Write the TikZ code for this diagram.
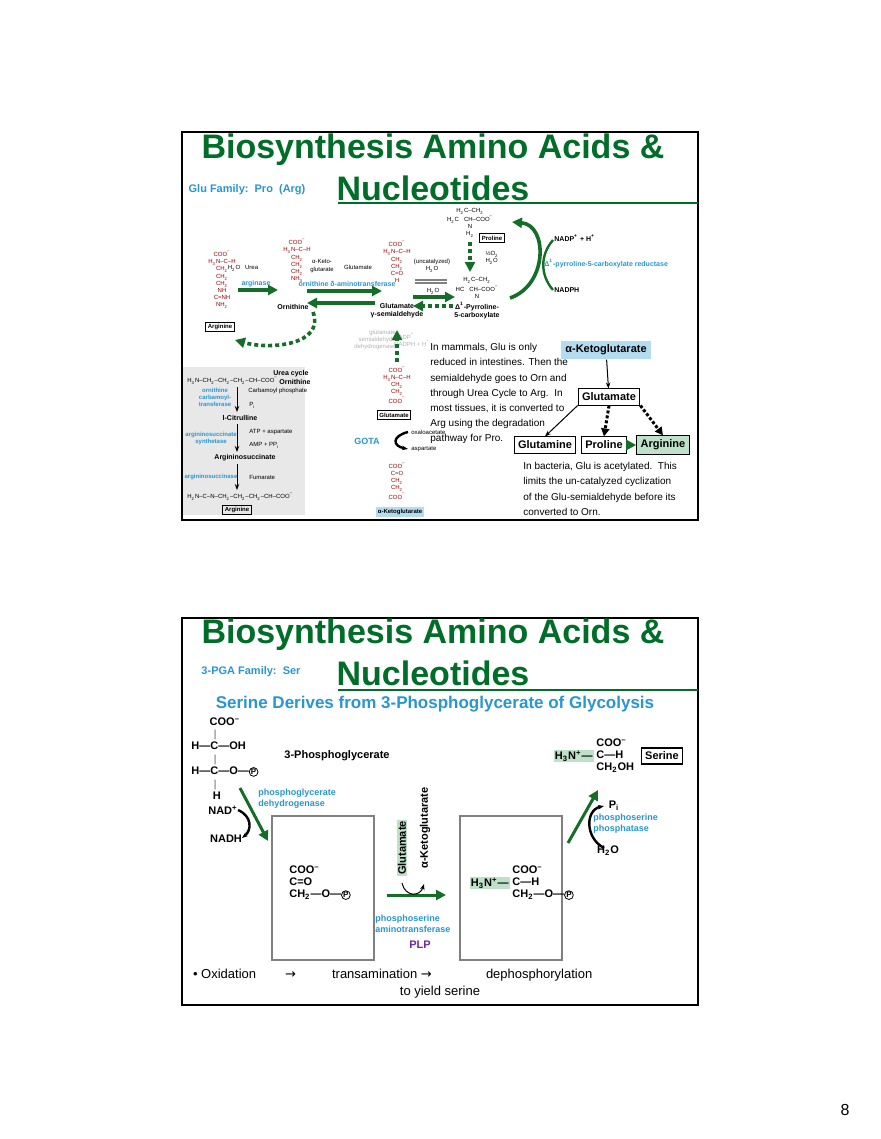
\documentclass[tikz,border=0pt]{standalone}
\usepackage{fontspec}
\setmainfont{Liberation Sans}
\newfontfamily\symfont{DejaVu Sans}
\usetikzlibrary{arrows.meta,positioning}
\definecolor{slidegreen}{RGB}{0,110,40}
\definecolor{arrowgreen}{RGB}{20,110,40}
\definecolor{enzblue}{RGB}{40,150,210}
\definecolor{lightbox}{RGB}{180,220,240}
\definecolor{lightgreen}{RGB}{190,225,200}
\definecolor{panelgray}{RGB}{232,232,232}
\definecolor{plpviolet}{RGB}{110,40,160}
\newcommand{\lo}[1]{\textsubscript{#1}}
\newcommand{\hi}[1]{\textsuperscript{#1}}
\newcommand{\circP}{\tikz[baseline=(p.base)]\node[draw, circle, line width=0.4pt, inner sep=0.2pt, font=\fontsize{4}{4}\selectfont\bfseries] (p) {P};}

\begin{document}
\begin{tikzpicture}[x=0.5pt, y=-0.5pt]
    % Define styles
    \tikzset{
      frame/.style={draw=black, line width=0.6pt},
      title/.style={font=\fontsize{17}{19}\selectfont\bfseries, text=slidegreen},
      family/.style={font=\fontsize{5.5}{6}\selectfont\bfseries, text=enzblue},
      chem/.style={font=\fontsize{3}{3.6}\selectfont, inner sep=0.5pt},
      chemb/.style={font=\fontsize{3.5}{4}\selectfont\bfseries, inner sep=0.5pt},
      enz/.style={font=\fontsize{3.5}{4}\selectfont\bfseries, text=enzblue, inner sep=0.5pt, align=center},
      tag/.style={draw=black, font=\fontsize{3}{3.5}\selectfont\bfseries, inner sep=1pt},
      note/.style={font=\fontsize{5}{7.6}\selectfont, align=left, anchor=north west, inner sep=0pt},
      bigbox/.style={draw=black, line width=0.5pt, font=\fontsize{5.5}{6.5}\selectfont\bfseries, inner sep=2pt, minimum height=8pt},
      sermol/.style={font=\fontsize{5.5}{6}\selectfont\bfseries, inner sep=0.5pt},
      serenz/.style={font=\fontsize{4.5}{5.5}\selectfont\bfseries, text=enzblue, align=left, inner sep=0pt, anchor=west},
      garrow/.style={-{Triangle[length=5pt,width=5pt]}, draw=arrowgreen, line width=1.8pt},
      gdash/.style={-{Triangle[length=5pt,width=5pt]}, draw=arrowgreen, line width=1.8pt, dash pattern=on 2pt off 1.5pt},
      karrow/.style={-{Stealth[length=3pt]}, draw=black, line width=0.5pt}
    }
    \useasboundingbox (0,0) rectangle (880,1139);
    \fill[white] (0,0) rectangle (880,1139);

    % ---------- Slide 1 ----------
    \draw[frame] (182,132) rectangle (698,520);
    \node[title] (t1a) at (433,150) {Biosynthesis Amino Acids \&};
    \node[title] (t1b) at (433,188) {Nucleotides};
    \draw[slidegreen, line width=1pt] (338,203) -- (698,203);
    \node[family] (fam1) at (247,190) {Glu Family:\ \ Pro\ \ (Arg)};

    % molecules
    \node[chem, align=center, text=red!60!black] (arg) at (222,280) {COO\hi{–}\\H\lo{3}N–C–H\\CH\lo{2}\\CH\lo{2}\\CH\lo{2}\\NH\\C=NH\\NH\lo{2}};
    \node[tag] (argbox) at (220,327) {Arginine};
    \node[chem, align=center, text=red!60!black] (orn) at (297,261) {COO\hi{–}\\H\lo{3}N–C–H\\CH\lo{2}\\CH\lo{2}\\CH\lo{2}\\NH\lo{3}};
    \node[chemb] (ornlab) at (293,307) {Ornithine};
    \node[chem, align=center, text=red!60!black] (gsa) at (397,262) {COO\hi{–}\\H\lo{3}N–C–H\\CH\lo{2}\\CH\lo{2}\\C=O\\H};
    \node[chemb, align=center] (gsalab) at (397,311) {Glutamate\\γ-semialdehyde};
    \node[chem, align=center] (p5c) at (477,288) {H\lo{2}C–CH\lo{2}\\HC\ \ \ CH–COO\hi{–}\\N};
    \node[chemb, align=center] (p5clab) at (477,311) {Δ\hi{1}-Pyrroline-\\5-carboxylate};
    \node[chem, align=center] (pro) at (470,223) {H\lo{2}C–CH\lo{2}\\H\lo{2}C\ \ \ CH–COO\hi{–}\\N\\H\lo{2}};
    \node[tag] (probox) at (492,238) {Proline};

    \node[chem] (h2o1) at (243,268) {H\lo{2}O\ \ \ Urea};
    \node[enz] (arginase) at (256,284) {arginase};
    \node[chem, align=center] (akg1) at (322,266) {α-Keto-\\glutarate};
    \node[chem] (glu1) at (358,267) {Glutamate};
    \node[enz] (oat) at (347,284) {ornithine δ-aminotransferase};
    \node[chem, align=center] (uncat) at (432,266) {(uncatalyzed)\\H\lo{2}O};
    \node[chem] (h2o2) at (433,291) {H\lo{2}O};
    \node[chem, align=left] (o2) at (492,258) {½O\lo{2}\\H\lo{2}O};

    \coordinate (a1s) at (238,290); \coordinate (a1e) at (278,290);
    \coordinate (a2s) at (307,291); \coordinate (a2e) at (382,291);
    \coordinate (a3s) at (375,303); \coordinate (a3e) at (307,303);
    \coordinate (a4s) at (413,297); \coordinate (a4e) at (455,297);
    \coordinate (a5s) at (453,306); \coordinate (a5e) at (413,306);
    \draw[garrow] (a1s) -- (a1e);
    \draw[garrow] (a2s) -- (a2e);
    \draw[garrow] (a3s) -- (a3e);
    \draw[garrow] (a4s) -- (a4e);
    \draw[gdash] (a5s) -- (a5e);
    \draw[gray, line width=1pt] (415,280) -- (447,280);
    \draw[gray, line width=1pt] (415,283) -- (447,283);
    \draw[gdash] (470,242) -- (470,272);
    \draw[garrow] (510,298) .. controls (548,285) and (548,225) .. (512,222);
    \draw[arrowgreen, line width=1.2pt] (553,240) .. controls (540,255) and (540,275) .. (553,290);
    \node[chemb, anchor=west] (nadp) at (553,238) {NADP\hi{+} + H\hi{+}};
    \node[enz, anchor=west] (p5cr) at (543,264) {Δ\hi{1}-pyrroline-5-carboxylate reductase};
    \node[chemb, anchor=west] (nadph) at (553,290) {NADPH};
    \draw[gdash] (313,312) .. controls (325,345) and (270,350) .. (235,340);

    % glutamate column
    \node[chem, align=right, text=gray!60] (faded) at (375,340) {glutamate\\semialdehyde\\dehydrogenase};
    \node[chem, align=left, text=gray!60] (fadedr) at (412,340) {NADP\hi{+}\\NADPH + H\hi{+}};
    \node[chem, align=center, text=red!60!black] (gluc) at (397,385) {COO\hi{–}\\H\lo{3}N–C–H\\CH\lo{2}\\CH\lo{2}\\COO\hi{–}};
    \node[tag] (glubox) at (394,415) {Glutamate};
    \draw[gdash] (397,362) -- (397,330);
    \node[enz, font=\fontsize{4.5}{5}\selectfont\bfseries] (gota) at (367,441) {GOTA};
    \draw[karrow, line width=1.2pt] (408,432) .. controls (392,436) and (392,446) .. (408,449);
    \node[chem, anchor=west] (oaa) at (410,432) {oxaloacetate};
    \node[chem, anchor=west] (asp) at (410,449) {aspartate};
    \node[chem, align=center, text=red!60!black] (akgc) at (397,481) {COO\hi{–}\\C=O\\CH\lo{2}\\CH\lo{2}\\COO\hi{–}};
    \node[tag, draw=none, fill=lightbox] (akgbox) at (400,512) {α-Ketoglutarate};

    % urea cycle panel
    \fill[panelgray] (183,367) rectangle (305,515);
    \node[chem, anchor=west] (uorn) at (186,381) {H\lo{3}N–CH\lo{2}–CH\lo{2}–CH\lo{2}–CH–COO\hi{–}};
    \node[chemb, anchor=west] (ucyc) at (272,374) {Urea cycle};
    \node[chemb, anchor=west] (uornl) at (278,382) {Ornithine};
    \node[enz, font=\fontsize{3}{3.5}\selectfont\bfseries] (otc) at (215,397) {ornithine\\carbamoyl-\\transferase};
    \node[chem, anchor=west] (cp) at (247,391) {Carbamoyl phosphate};
    \node[chem, anchor=west] (pi1) at (248,405) {P\lo{i}};
    \node[chemb] (cit) at (240,418) {l-Citrulline};
    \node[enz, font=\fontsize{3}{3.5}\selectfont\bfseries] (ass) at (211,438) {argininosuccinate\\synthetase};
    \node[chem, anchor=west] (atp) at (248,432) {ATP + aspartate};
    \node[chem, anchor=west] (amp) at (248,445) {AMP + PP\lo{i}};
    \node[chemb] (asa) at (245,458) {Argininosuccinate};
    \node[enz, font=\fontsize{3}{3.5}\selectfont\bfseries] (asl) at (211,477) {argininosuccinase};
    \node[chem, anchor=west] (fum) at (248,477) {Fumarate};
    \node[chem, anchor=west] (uarg) at (186,497) {H\lo{2}N–C–N–CH\lo{2}–CH\lo{2}–CH\lo{2}–CH–COO\hi{–}};
    \node[tag] (uargbox) at (237,510) {Arginine};
    \draw[karrow] (237,387) -- (237,412);
    \draw[karrow] (237,424) -- (237,452);
    \draw[karrow] (237,464) -- (237,490);

    % notes and scheme
    \node[note] (note1) at (430,343) {In mammals, Glu is only\\reduced in intestines. Then the\\semialdehyde goes to Orn and\\through Urea Cycle to Arg.\ \ In\\most tissues, it is converted to\\Arg using the degradation\\pathway for Pro.};
    \node[bigbox, draw=none, fill=lightbox] (akgr) at (606,350) {α-Ketoglutarate};
    \node[bigbox] (glur) at (609,397) {Glutamate};
    \node[bigbox] (glnr) at (545,445) {Glutamine};
    \node[bigbox] (pror) at (604,445) {Proline};
    \node[bigbox, fill=lightgreen] (argr) at (663,445) {Arginine};
    \draw[karrow] (akgr) -- (glur);
    \draw[karrow] (glur.south west) -- (glnr.north);
    \draw[-{Triangle[length=4pt,width=4pt]}, line width=1.5pt, dash pattern=on 1.5pt off 1pt] (glur.south) -- (pror.north);
    \draw[-{Triangle[length=4pt,width=4pt]}, line width=1.5pt, dash pattern=on 1.5pt off 1pt] (glur.south east) -- (argr.north);
    \draw[garrow, line width=1.4pt] (pror.east) -- (argr.west);
    \node[note] (note2) at (523,462) {In bacteria, Glu is acetylated.\ \ This\\limits the un-catalyzed cyclization\\of the Glu-semialdehyde before its\\converted to Orn.};

    % ---------- Slide 2 ----------
    \draw[frame] (182,618) rectangle (698,1005);
    \node[title] (t2a) at (433,635) {Biosynthesis Amino Acids \&};
    \node[title] (t2b) at (433,673) {Nucleotides};
    \draw[slidegreen, line width=1pt] (338,690) -- (698,690);
    \node[family] (fam2) at (251,672) {3-PGA Family:\ \ Ser};
    \node[font=\fontsize{8.5}{9}\selectfont\bfseries, text=enzblue] (sub) at (435,704) {Serine Derives from 3-Phosphoglycerate of Glycolysis};

    \node[sermol, align=left, anchor=north west, font=\fontsize{5.5}{6.2}\selectfont\bfseries] (pga) at (190,716) {\ \ \ \ \ \ COO\hi{–}\\\ \ \ \ \ \ \ $|$\\H—C—OH\\\ \ \ \ \ \ \ $|$\\H—C—O—\circP\\\ \ \ \ \ \ \ $|$\\\ \ \ \ \ \ \ H};
    \node[sermol] (pgalab) at (337,756) {3-Phosphoglycerate};
    \node[serenz] (pgdh) at (258,799) {phosphoglycerate\\dehydrogenase};
    \node[sermol] (nad) at (223,810) {NAD\hi{+}};
    \node[sermol] (nadh) at (226,839) {NADH};
    \draw[garrow, line width=1.5pt] (240,788) -- (268,841);
    \draw[karrow, line width=1.2pt] (238,810) .. controls (252,816) and (252,830) .. (242,838);

    \node[draw=gray, line width=0.7pt, minimum width=51pt, minimum height=72pt] (box1) at (323,888) {};
    \node[sermol, align=left] (pp) at (320,883) {COO\hi{–}\\C=O\\CH\lo{2}—O—\circP};
    \node[draw=gray, line width=0.7pt, minimum width=51pt, minimum height=72pt] (box2) at (511,888) {};
    \node[sermol, align=left, anchor=west] (ps) at (511,883) {COO\hi{–}\\C—H\\CH\lo{2}—O—\circP};
    \node[sermol, fill=lightgreen, anchor=east] (h3n2) at (510,883) {H\lo{3}N\hi{+}—};

    \node[sermol, fill=lightgreen, rotate=90] (glurot) at (402,848) {Glutamate};
    \node[sermol, rotate=90] (akgrot) at (425,828) {α-Ketoglutarate};
    \coordinate (ts) at (387,895); \coordinate (te) at (446,895);
    \draw[garrow, line width=1.5pt] (ts) -- (te);
    \draw[karrow] (402,883) .. controls (405,897) and (420,897) .. (424,884);
    \node[serenz] (psat) at (375,924) {phosphoserine\\aminotransferase};
    \node[sermol, text=plpviolet] (plp) at (420,945) {PLP};

    \node[sermol, align=left, anchor=west] (ser) at (595,756) {COO\hi{–}\\C—H\\CH\lo{2}OH};
    \node[sermol, fill=lightgreen, anchor=east] (h3n3) at (594,756) {H\lo{3}N\hi{+}—};
    \node[draw=black, line width=0.6pt, sermol, inner sep=2pt] (serbox) at (662,756) {Serine};
    \draw[garrow, line width=1.5pt] (568,843) -- (598,790);
    \draw[karrow, line width=1.2pt] (604,848) .. controls (585,838) and (585,810) .. (604,806);
    \node[sermol] (pi) at (614,806) {P\lo{i}};
    \node[serenz] (psp) at (593,824) {phosphoserine\\phosphatase};
    \node[sermol] (h2o) at (608,851) {H\lo{2}O};

    \node[font=\fontsize{6.5}{7.5}\selectfont, anchor=west] (steps) at (186,975) {• Oxidation\ \ \ \ \ \ \ \ {\symfont →}\ \ \ \ \ \ \ \ \ \ transamination {\symfont →}\ \ \ \ \ \ \ \ \ \ \ \ \ \ \ dephosphorylation};
    \node[font=\fontsize{6.5}{7.5}\selectfont] (yield) at (440,992) {to yield serine};

    \node[font=\fontsize{8}{9}\selectfont\rmfamily] (pg) at (845,1110) {8};
\end{tikzpicture}
\end{document}
